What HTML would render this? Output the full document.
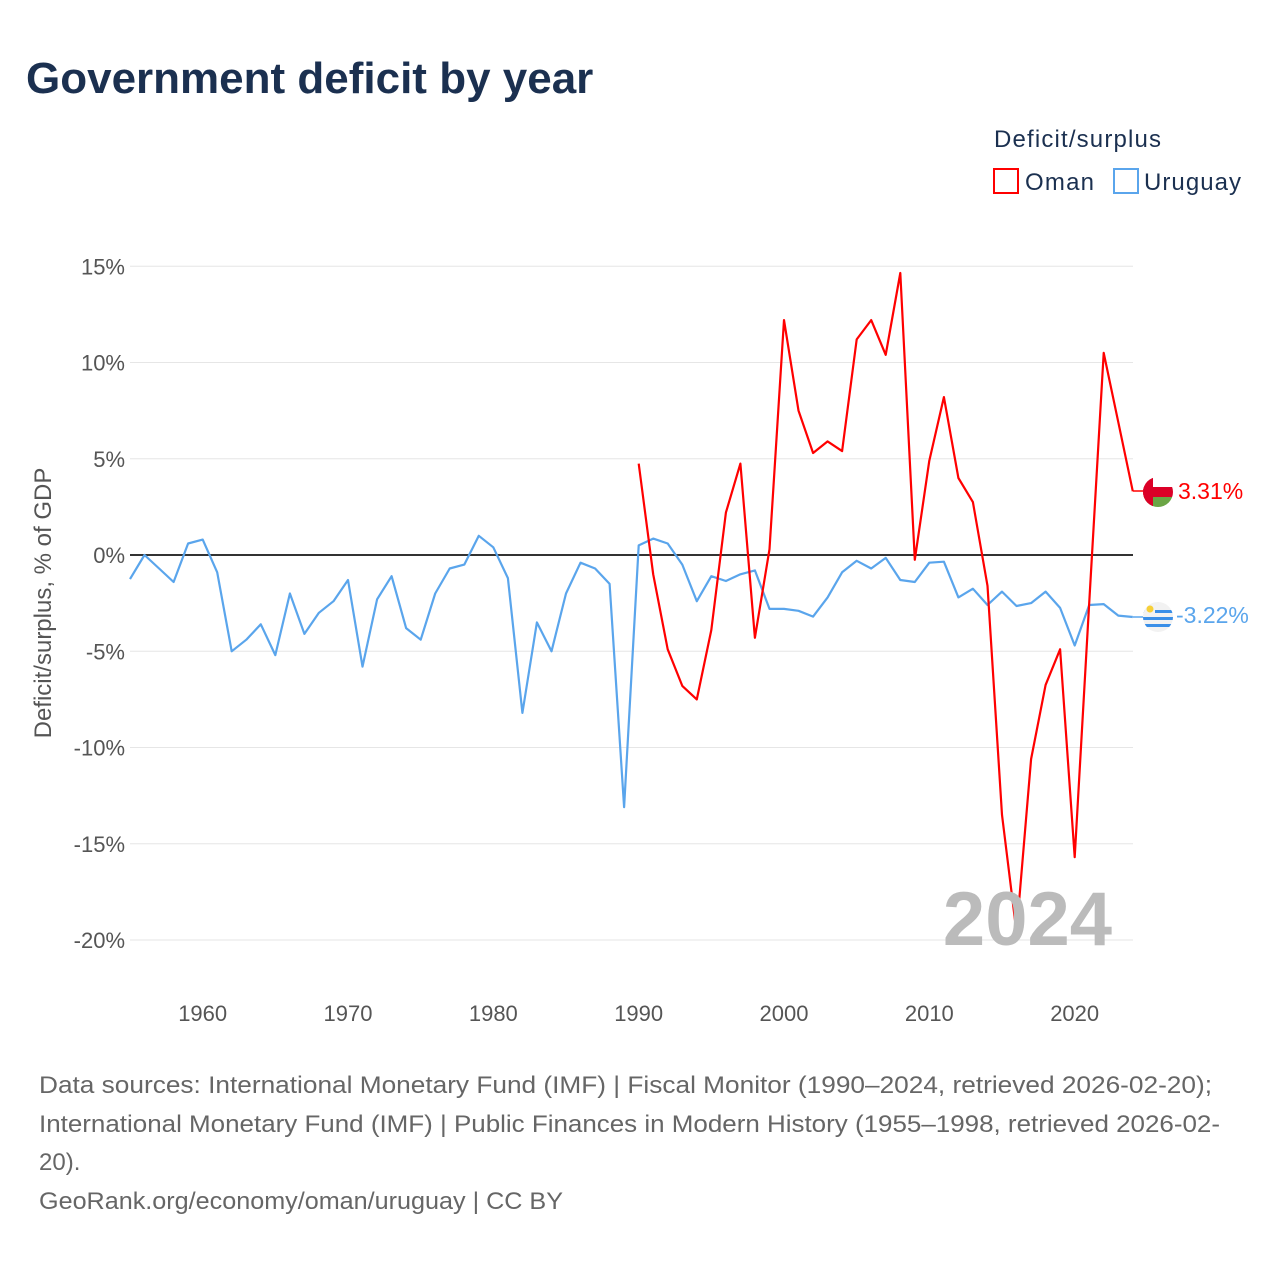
<!DOCTYPE html>
<html><head><meta charset="utf-8"><style>
body{margin:0;background:#fff;width:1280px;height:1280px;overflow:hidden;font-family:"Liberation Sans",sans-serif;}
</style></head><body>
<svg id="chart" width="1280" height="1280" xmlns="http://www.w3.org/2000/svg">
<text x="26" y="93" font-size="44" font-weight="bold" fill="#1b3050">Government deficit by year</text>
<text x="994" y="147" font-size="24" fill="#1b3050" textLength="167">Deficit/surplus</text>
<g><rect x="994" y="169" width="24" height="24" fill="none" stroke="#ff0000" stroke-width="2"/><text x="1025" y="190" font-size="24" fill="#1b3050" textLength="69">Oman</text></g>
<g><rect x="1114" y="169" width="24" height="24" fill="none" stroke="#5aa5ec" stroke-width="2"/><text x="1144" y="190" font-size="24" fill="#1b3050" textLength="97">Uruguay</text></g>
<g id="grid"></g><g id="yt"></g><g id="xt"></g><g id="lines"></g>
<text transform="translate(51,603) rotate(-90)" text-anchor="middle" font-size="24" fill="#555">Deficit/surplus, % of GDP</text>
<text x="1112" y="945" text-anchor="end" font-size="76" font-weight="bold" fill="#bbb">2024</text>
<line x1="1133" y1="491" x2="1143" y2="491" stroke="#ff0000" stroke-width="1.5"/>
<line x1="1133" y1="617" x2="1143" y2="617" stroke="#5aa5ec" stroke-width="1.5"/>
<g><clipPath id="c1"><circle cx="1158" cy="492" r="15"/></clipPath><g clip-path="url(#c1)"><rect x="1143" y="477" width="30" height="30" fill="#fff"/><rect x="1143" y="487" width="30" height="10" fill="#db0027"/><rect x="1143" y="497" width="30" height="10" fill="#6ba545"/><rect x="1143" y="477" width="10" height="30" fill="#db0027"/></g></g>
<text x="1178" y="499" font-size="23" fill="#ff0000">3.31%</text>
<g><clipPath id="c2"><circle cx="1158" cy="617" r="15"/></clipPath><g clip-path="url(#c2)"><rect x="1143" y="602" width="30" height="30" fill="#f2f2f2"/><rect x="1143" y="610" width="30" height="3" fill="#3a8fe8"/><rect x="1143" y="617" width="30" height="3" fill="#3a8fe8"/><rect x="1143" y="624" width="30" height="3" fill="#3a8fe8"/><rect x="1143" y="602" width="12" height="12" fill="#f2f2f2"/><circle cx="1150" cy="609" r="3.5" fill="#f7d038"/></g></g>
<text x="1176" y="623" font-size="23" fill="#5aa5ec">-3.22%</text>
<g font-size="24" fill="#666">
<text x="39" y="1093" textLength="1173" lengthAdjust="spacingAndGlyphs">Data sources: International Monetary Fund (IMF) | Fiscal Monitor (1990–2024, retrieved 2026-02-20);</text>
<text x="39" y="1132" textLength="1181" lengthAdjust="spacingAndGlyphs">International Monetary Fund (IMF) | Public Finances in Modern History (1955–1998, retrieved 2026-02-</text>
<text x="39" y="1170">20).</text>
<text x="39" y="1209" textLength="524" lengthAdjust="spacingAndGlyphs">GeoRank.org/economy/oman/uruguay | CC BY</text>
</g>
</svg>
<script>
const yTicks=[15,10,5,0,-5,-10,-15,-20];
const xTicks=[1960,1970,1980,1990,2000,2010,2020];
const uruguayYears=[];for(let y=1955;y<=2024;y++)uruguayYears.push(y);
const uruguayValues=[-1.25,0.0,-0.7,-1.4,0.6,0.8,-0.9,-5.0,-4.4,-3.6,-5.2,-2.0,-4.1,-3.0,-2.4,-1.3,-5.8,-2.3,-1.1,-3.8,-4.4,-2.0,-0.7,-0.5,1.0,0.4,-1.2,-8.2,-3.5,-5.0,-2.0,-0.4,-0.7,-1.5,-13.1,0.5,0.85,0.6,-0.5,-2.4,-1.1,-1.35,-1.0,-0.8,-2.8,-2.8,-2.9,-3.2,-2.2,-0.9,-0.3,-0.7,-0.15,-1.3,-1.4,-0.4,-0.35,-2.2,-1.75,-2.6,-1.9,-2.65,-2.5,-1.9,-2.75,-4.7,-2.6,-2.55,-3.15,-3.22];
const omanYears=[];for(let y=1990;y<=2024;y++)omanYears.push(y);
const omanValues=[4.75,-1.0,-4.9,-6.8,-7.5,-3.9,2.2,4.75,-4.3,0.3,12.2,7.5,5.3,5.9,5.4,11.2,12.2,10.4,14.65,-0.25,4.9,8.2,4.0,2.75,-1.6,-13.5,-19.6,-10.6,-6.75,-4.9,-15.7,-2.5,10.5,6.9,3.31];
const X=y=>130+(y-1955)*(1075-203)/60;
const Y=v=>555-v*19.25;
const NS="http://www.w3.org/2000/svg";
function mk(tag,attrs,parent){const e=document.createElementNS(NS,tag);for(const k in attrs)e.setAttribute(k,attrs[k]);parent.appendChild(e);return e;}
const grid=document.getElementById('grid'),yt=document.getElementById('yt'),xt=document.getElementById('xt'),lines=document.getElementById('lines');
yTicks.forEach(v=>{
 const l=mk('line',{x1:130,x2:1133,y1:Y(v),y2:Y(v),stroke:v===0?'#333':'#e6e6e6','stroke-width':v===0?2:1},grid);
 
 
 const t=mk('text',{x:125,y:Y(v)+8,'text-anchor':'end','font-size':22,fill:'#555'},yt);
 t.textContent=v+'%';
 
 
});
xTicks.forEach(y=>{
 const t=mk('text',{x:X(y),y:1021,'text-anchor':'middle','font-size':22,fill:'#555'},xt);
 t.textContent=y;
 
 
});
function series(ys,vs,color,name){
 const d=ys.map((y,i)=>(i?'L':'M')+X(y).toFixed(1)+','+Y(vs[i]).toFixed(1)).join(' ');
 const p=mk('path',{d:d,fill:'none',stroke:color,'stroke-width':2.2,'stroke-linejoin':'round'},lines);
 
 
}
series(uruguayYears,uruguayValues,'#5aa5ec','uruguay-line');
series(omanYears,omanValues,'#ff0000','oman-line');
</script>
</body></html>
